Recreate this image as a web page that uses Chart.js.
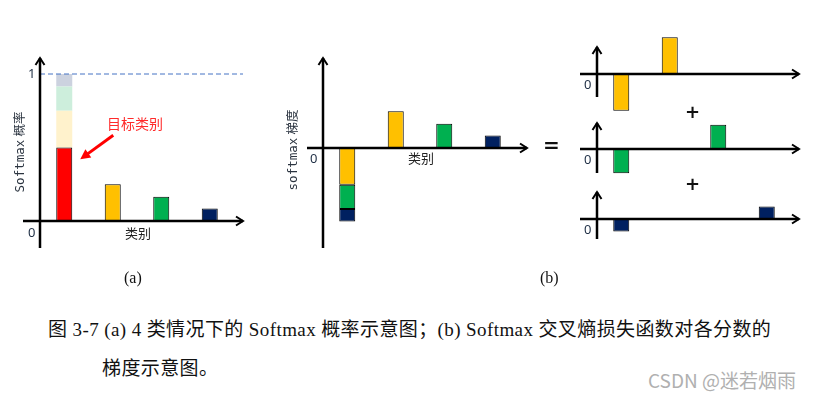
<!DOCTYPE html>
<html>
<head>
<meta charset="utf-8">
<script src="https://cdn.jsdelivr.net/npm/chart.js@4/dist/chart.umd.min.js"></script>
<style>
  html, body { margin: 0; padding: 0; background: #fff; }
  #stage { position: relative; width: 814px; height: 400px; overflow: hidden; background: #fff; }
  #stage canvas { position: absolute; }
  .t { position: absolute; white-space: nowrap; line-height: 1; color: #222; }
  .cjk { font-family: "Noto Sans CJK SC", sans-serif; font-size: 13px; }
  .num { font-family: "Noto Sans", sans-serif; font-size: 13px; color: #1f2f45; }
  .vert { transform: translate(-50%, -50%) rotate(-90deg); font-size: 12.5px; color: #2b3440; }
  .vert .lat { font-family: "DejaVu Sans Mono", monospace; }
  .vert .zh { font-family: "Noto Sans CJK SC", sans-serif; }
  .serif { font-family: "Liberation Serif", "Noto Sans CJK SC", serif; font-size: 16px; color: #111; }
  .cap { font-family: "Liberation Serif", "Noto Sans CJK SC", serif; font-size: 19px; letter-spacing: 0.4px; color: #111; }
  .op { font-family: "DejaVu Sans", sans-serif; font-weight: bold; color: #111; }
  .wm { font-family: "Noto Sans CJK SC", "Noto Sans", sans-serif; font-size: 19px; color: #b0b0b0; }
</style>
</head>
<body>
<div id="stage">
  <canvas id="pa"></canvas>
  <canvas id="pb"></canvas>
  <canvas id="r1"></canvas>
  <canvas id="r2"></canvas>
  <canvas id="r3"></canvas>

  <div class="t num" style="left:28px; top:67px;">1</div>
  <div class="t num" style="left:28px; top:226px;">0</div>
  <div class="t vert" style="left:20px; top:152px;"><span class="lat">Softmax</span> <span class="zh">概率</span></div>
  <div class="t cjk" style="left:125px; top:226px;">类别</div>
  <div class="t cjk" style="left:107px; top:116px; color:#ff2a2a; font-size:14px;">目标类别</div>

  <div class="t num" style="left:310px; top:152px;">0</div>
  <div class="t vert" style="left:293px; top:150px;"><span class="lat">softmax</span> <span class="zh">梯度</span></div>
  <div class="t cjk" style="left:408px; top:151px;">类别</div>

  <div class="t op" style="left:543px; top:135px; font-size:20px;">=</div>
  <div class="t op" style="left:685px; top:103px; font-size:18px;">+</div>
  <div class="t op" style="left:685px; top:175px; font-size:18px;">+</div>
  <div class="t num" style="left:584px; top:78px;">0</div>
  <div class="t num" style="left:584px; top:153px;">0</div>
  <div class="t num" style="left:584px; top:223px;">0</div>

  <div class="t serif" style="left:124px; top:270px;">(a)</div>
  <div class="t serif" style="left:540px; top:270px;">(b)</div>

  <div class="t cap" style="left:48px; top:320px;">图 3-7 (a) 4 类情况下的 Softmax 概率示意图；(b) Softmax 交叉熵损失函数对各分数的</div>
  <div class="t cap" style="left:102px; top:359px;">梯度示意图。</div>
  <div class="t wm" style="left:648px; top:370px;">CSDN @迷若烟雨</div>
</div>

<script>
// four classes, no tick labels on the axes
const classes = ['类1', '类2', '类3', '类4'];

// (a) softmax probabilities, class 1 is the target
const probs = [0.5, 0.25, 0.165, 0.085];

// (b) gradient of the cross-entropy loss: p - 1 for the target, p otherwise
const gradPositive = [null, 0.25, 0.165, 0.085];
const gradTargetParts = [-0.25, -0.165, -0.085];

// (b) right: contribution of each non-target class
const partClass2 = [-0.25, 0.25, null, null];
const partClass3 = [-0.165, null, 0.165, null];
const partClass4 = [-0.085, null, null, 0.085];

const RED = '#ff0000';
const YELLOW = '#ffc000';
const GREEN = '#00b050';
const NAVY = '#002060';
const LIGHT = ['#fff2cc', '#cdeedc', '#ccd2df'];
const UNIT = 147; // px per probability unit, shared by every panel
const SPAN = 194; // px covered by the four categories

// canvas box and axis layout for each panel (page pixels)
const panels = {
    pa: { box: [15, 50, 235, 205], axisX: 40, zeroY: 221, xStart: 23, xEnd: 243, yTop: 58, yBottom: 248 },
    pb: { box: [300, 50, 235, 205], axisX: 323, zeroY: 148, xStart: 307, xEnd: 527, yTop: 58, yBottom: 248 },
    r1: { box: [572, 30, 234, 86], axisX: 597, zeroY: 74, xStart: 580, xEnd: 799, yTop: 47, yBottom: 97 },
    r2: { box: [572, 118, 234, 62], axisX: 597, zeroY: 149, xStart: 580, xEnd: 799, yTop: 123, yBottom: 173 },
    r3: { box: [572, 186, 234, 58], axisX: 597, zeroY: 219, xStart: 580, xEnd: 799, yTop: 192, yBottom: 239 },
};

const arrowHead = (ctx, x, y, dir) => {
    ctx.beginPath();
    if (dir === 'right') {
        ctx.moveTo(x - 7, y - 4.5);
        ctx.lineTo(x, y);
        ctx.lineTo(x - 7, y + 4.5);
    } else {
        ctx.moveTo(x - 4.5, y + 7);
        ctx.lineTo(x, y);
        ctx.lineTo(x + 4.5, y + 7);
    }
    ctx.stroke();
};

const axesPlugin = {
    id: 'sketchAxes',
    afterDatasetsDraw(chart, args, opts) {
        const p = opts.layout;
        const ctx = chart.ctx;
        const ox = p.box[0];
        const oy = p.box[1];
        const zero = chart.scales.y.getPixelForValue(0);
        const ax = chart.chartArea.left;
        ctx.save();

        if (opts.dashedAt !== undefined) {
            const yd = chart.scales.y.getPixelForValue(opts.dashedAt);
            ctx.strokeStyle = '#4472c4';
            ctx.lineWidth = 1;
            ctx.setLineDash([5, 3]);
            ctx.beginPath();
            ctx.moveTo(ax, yd);
            ctx.lineTo(p.xEnd - ox, yd);
            ctx.stroke();
            ctx.setLineDash([]);
        }

        ctx.strokeStyle = '#000';
        ctx.lineWidth = 2.5;
        ctx.lineCap = 'butt';
        ctx.beginPath();
        ctx.moveTo(p.xStart - ox, zero);
        ctx.lineTo(p.xEnd - ox, zero);
        ctx.moveTo(ax, p.yBottom - oy);
        ctx.lineTo(ax, p.yTop - oy);
        ctx.stroke();
        ctx.lineWidth = 2;
        arrowHead(ctx, p.xEnd - ox, zero, 'right');
        arrowHead(ctx, ax, p.yTop - oy, 'up');

        if (opts.pointer) {
            // red arrow pointing at the target bar
            const bar = chart.getDatasetMeta(0).data[0];
            const tipX = bar.x + bar.width / 2 + 8;
            const tipY = chart.scales.y.getPixelForValue(0.42);
            const fromX = tipX + 33;
            const fromY = tipY - 24;
            const ang = Math.atan2(tipY - fromY, tipX - fromX);
            ctx.strokeStyle = '#ff0000';
            ctx.fillStyle = '#ff0000';
            ctx.lineWidth = 3;
            ctx.beginPath();
            ctx.moveTo(fromX, fromY);
            ctx.lineTo(tipX - 7 * Math.cos(ang), tipY - 7 * Math.sin(ang));
            ctx.stroke();
            ctx.beginPath();
            ctx.moveTo(tipX, tipY);
            ctx.lineTo(tipX - 10 * Math.cos(ang) + 5 * Math.sin(ang), tipY - 10 * Math.sin(ang) - 5 * Math.cos(ang));
            ctx.lineTo(tipX - 10 * Math.cos(ang) - 5 * Math.sin(ang), tipY - 10 * Math.sin(ang) + 5 * Math.cos(ang));
            ctx.closePath();
            ctx.fill();
        }
        ctx.restore();
    },
};

const barStyle = (color) => ({
    backgroundColor: color,
    borderColor: '#000',
    borderWidth: 1,
    borderSkipped: false,
    stack: 's',
    categoryPercentage: 1,
    barPercentage: 0.33,
});

const makePanel = (id, datasets, extra = {}) => {
    const p = panels[id];
    const el = document.getElementById(id);
    const [left, top, width, height] = p.box;
    el.style.left = left + 'px';
    el.style.top = top + 'px';
    el.width = width;
    el.height = height;

    return new Chart(el, {
        type: 'bar',
        data: { labels: classes, datasets },
        options: {
            responsive: false,
            animation: false,
            devicePixelRatio: 1,
            layout: {
                padding: {
                    left: p.axisX - left,
                    right: left + width - (p.axisX + SPAN),
                    top: 0,
                    bottom: 0,
                },
            },
            scales: {
                x: { display: false, stacked: true, offset: true },
                y: {
                    display: false,
                    stacked: true,
                    min: -(top + height - p.zeroY) / UNIT,
                    max: (p.zeroY - top) / UNIT,
                },
            },
            plugins: {
                legend: { display: false },
                tooltip: { enabled: false },
                sketchAxes: Object.assign({ layout: p }, extra),
            },
        },
        plugins: [axesPlugin],
    });
};

// (a)
makePanel('pa', [
    Object.assign(barStyle([RED, YELLOW, GREEN, NAVY]), { data: probs }),
    ...probs.slice(1).map((v, i) => Object.assign(barStyle(LIGHT[i]), {
        data: [v, null, null, null],
        borderWidth: 0,
    })),
], { dashedAt: 1, pointer: true });

// (b) left
makePanel('pb', [
    Object.assign(barStyle([null, YELLOW, GREEN, NAVY]), { data: gradPositive }),
    ...gradTargetParts.map((v, i) => Object.assign(barStyle([YELLOW, GREEN, NAVY][i]), {
        data: [v, null, null, null],
    })),
]);

// (b) right
makePanel('r1', [Object.assign(barStyle(YELLOW), { data: partClass2 })]);
makePanel('r2', [Object.assign(barStyle(GREEN), { data: partClass3 })]);
makePanel('r3', [Object.assign(barStyle(NAVY), { data: partClass4 })]);
</script>
</body>
</html>
